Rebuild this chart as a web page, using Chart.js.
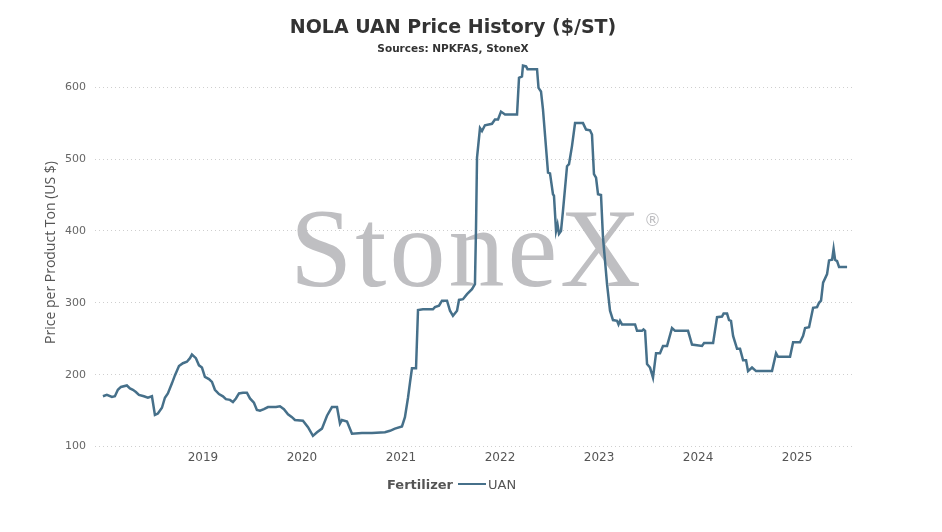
<!DOCTYPE html>
<html>
<head>
<meta charset="utf-8">
<script src="https://cdn.jsdelivr.net/npm/chart.js@4/dist/chart.umd.min.js"></script>
<style>
  html, body { margin: 0; padding: 0; background: #fff; }
  #wrap { position: relative; width: 942px; height: 532px; }
  #legend { position: absolute; left: 387px; top: 475px; height: 18px; display: flex; align-items: center;
            font-family: "DejaVu Sans", sans-serif; font-size: 13px; color: #555; white-space: nowrap; }
  #legend b { font-weight: bold; }
  #legend .ln { display: inline-block; width: 28px; height: 2px; background: #46708a; margin: 0 2px 0 5px; }
</style>
</head>
<body>
<div id="wrap">
  <canvas id="c" width="942" height="532"></canvas>
  <div id="legend"><b>Fertilizer</b><span class="ln"></span><span>UAN</span></div>
</div>
<script>
// Time as decimal year, price in US $ per short ton
const years = [
  2017.990, 2018.030, 2018.081, 2018.111, 2018.141, 2018.172, 2018.232, 2018.263, 2018.293, 2018.323,
  2018.354, 2018.404, 2018.444, 2018.485, 2018.515, 2018.545, 2018.586, 2018.616, 2018.646, 2018.687,
  2018.717, 2018.758, 2018.798, 2018.838, 2018.869, 2018.889, 2018.929, 2018.960, 2018.990, 2019.020,
  2019.061, 2019.091, 2019.121, 2019.162, 2019.202, 2019.232, 2019.273, 2019.303, 2019.333, 2019.364,
  2019.404, 2019.444, 2019.475, 2019.515, 2019.545, 2019.576, 2019.616, 2019.657, 2019.697, 2019.737,
  2019.778, 2019.818, 2019.859, 2019.899, 2019.929, 2020.010, 2020.061, 2020.111, 2020.152, 2020.202,
  2020.253, 2020.303, 2020.354, 2020.384, 2020.404, 2020.455, 2020.505, 2020.606, 2020.707, 2020.838,
  2020.889, 2020.939, 2021.010, 2021.040, 2021.071, 2021.091, 2021.111, 2021.152, 2021.172, 2021.222,
  2021.323, 2021.343, 2021.384, 2021.414, 2021.465, 2021.495, 2021.525, 2021.566, 2021.586, 2021.626,
  2021.667, 2021.717, 2021.747, 2021.758, 2021.768, 2021.798, 2021.818, 2021.848, 2021.919, 2021.949,
  2021.980, 2022.010, 2022.051, 2022.172, 2022.192, 2022.222, 2022.232, 2022.263, 2022.278, 2022.374,
  2022.389, 2022.414, 2022.434, 2022.485, 2022.505, 2022.535, 2022.545, 2022.566, 2022.581, 2022.596,
  2022.616, 2022.636, 2022.677, 2022.697, 2022.727, 2022.758, 2022.838, 2022.869, 2022.909, 2022.929,
  2022.949, 2022.970, 2022.990, 2023.020, 2023.040, 2023.081, 2023.111, 2023.141, 2023.182, 2023.197,
  2023.212, 2023.232, 2023.364, 2023.384, 2023.434, 2023.449, 2023.465, 2023.485, 2023.515, 2023.545,
  2023.576, 2023.616, 2023.646, 2023.687, 2023.737, 2023.768, 2023.899, 2023.939, 2024.040, 2024.061,
  2024.152, 2024.192, 2024.242, 2024.258, 2024.293, 2024.313, 2024.333, 2024.354, 2024.394, 2024.424,
  2024.455, 2024.485, 2024.505, 2024.545, 2024.586, 2024.747, 2024.788, 2024.808, 2024.929, 2024.960,
  2025.030, 2025.061, 2025.081, 2025.121, 2025.162, 2025.202, 2025.222, 2025.242, 2025.263, 2025.303,
  2025.323, 2025.354, 2025.369, 2025.384, 2025.404, 2025.424, 2025.505
];
const uanPrices = [
  170, 172, 169, 170, 179, 183, 185, 181, 179, 176,
  172, 170, 168, 170, 144, 146, 154, 168, 174, 188,
  199, 212, 216, 218, 223, 228, 223, 213, 210, 197,
  194, 190, 179, 173, 170, 166, 165, 162, 167, 174,
  175, 175, 167, 161, 151, 150, 152, 155, 155, 155,
  156, 152, 145, 141, 137, 136, 127, 115, 120, 125,
  143, 155, 155, 132, 137, 135, 118, 119, 119, 120,
  122, 125, 128, 141, 168, 189, 209, 209, 290, 291,
  291, 294, 296, 303, 303, 289, 282, 289, 304, 305,
  312, 319, 326, 405, 502, 543, 539, 547, 549, 555,
  555, 566, 562, 562, 613, 615, 630, 629, 625, 625,
  599, 594, 569, 481, 480, 451, 449, 400, 409, 396,
  400, 428, 490, 493, 518, 550, 550, 541, 540, 534,
  479, 474, 451, 450, 391, 326, 289, 276, 275, 270,
  275, 270, 270, 261, 261, 263, 261, 215, 210, 196,
  230, 230, 240, 240, 265, 261, 261, 242, 240, 244,
  244, 280, 281, 285, 285, 276, 275, 254, 236, 236,
  220, 220, 205, 210, 205, 205, 230, 225, 225, 245,
  245, 254, 265, 266, 293, 294, 300, 303, 328, 340,
  359, 360, 375, 360, 358, 350, 350
];
const yearTicks = [2019, 2020, 2021, 2022, 2023, 2024, 2025];
const priceTicks = [100, 200, 300, 400, 500, 600];

const points = years.map((x, i) => ({ x: x, y: uanPrices[i] }));

const watermark = {
  id: 'watermark',
  beforeDatasetsDraw(chart) {
    const ctx = chart.ctx;
    ctx.save();
    ctx.fillStyle = '#bfbfc2';
    ctx.font = '112px "Liberation Serif", "DejaVu Serif", serif';
    ctx.textBaseline = 'alphabetic';
    ctx.textAlign = 'left';
    try { ctx.letterSpacing = '3px'; } catch (e) {}
    ctx.fillText('StoneX', 290, 286);
    try { ctx.letterSpacing = '0px'; } catch (e) {}
    ctx.font = '17px "DejaVu Sans", sans-serif';
    ctx.fillText('\u00AE', 644, 226);
    ctx.restore();
  }
};

new Chart(document.getElementById('c'), {
  type: 'line',
  data: {
    datasets: [{
      label: 'UAN',
      data: points,
      borderColor: '#46708a',
      borderWidth: 2.5,
      pointRadius: 0,
      tension: 0,
      fill: false
    }]
  },
  options: {
    responsive: false,
    animation: false,
    layout: { padding: { left: 0, right: 36, top: 0, bottom: 63 } },
    plugins: {
      legend: { display: false },
      tooltip: { enabled: false },
      title: {
        display: true,
        text: 'NOLA UAN Price History ($/ST)',
        color: '#333',
        font: { family: '"DejaVu Sans", sans-serif', size: 19, weight: 'bold' },
        padding: { top: 17, bottom: 2 }
      },
      subtitle: {
        display: true,
        text: 'Sources: NPKFAS, StoneX',
        color: '#333',
        font: { family: '"DejaVu Sans", sans-serif', size: 10.5, weight: 'bold' },
        padding: { top: 1, bottom: 3 }
      }
    },
    scales: {
      x: {
        type: 'linear',
        min: 2017.91,
        max: 2025.575,
        afterBuildTicks: s => { s.ticks = yearTicks.map(v => ({ value: v })); },
        grid: { display: false, drawTicks: false },
        border: { display: false },
        ticks: {
          padding: 4,
          color: '#555',
          font: { family: '"DejaVu Sans", sans-serif', size: 12 },
          callback: v => String(v),
          maxRotation: 0,
          autoSkip: false
        }
      },
      y: {
        type: 'linear',
        min: 100,
        max: 640,
        afterBuildTicks: s => { s.ticks = priceTicks.map(v => ({ value: v })); },
        afterFit: s => { s.width = 95; },
        grid: { color: '#cfcfcf', lineWidth: 1, drawTicks: false },
        border: { display: false, dash: [1, 3] },
        ticks: {
          padding: 9,
          color: '#666',
          font: { family: '"DejaVu Sans", sans-serif', size: 11 }
        },
        title: {
          display: true,
          text: 'Price per Product Ton (US $)',
          color: '#555',
          font: { family: '"Open Sans", sans-serif', size: 14 },
          padding: { top: 43, bottom: 0 }
        }
      },
      y2: {
        type: 'linear',
        position: 'right',
        display: true,
        afterFit: s => { s.width = 52; },
        grid: { display: false, drawTicks: false },
        border: { display: false },
        ticks: { display: false }
      }
    }
  },
  plugins: [watermark]
});
</script>
</body>
</html>
